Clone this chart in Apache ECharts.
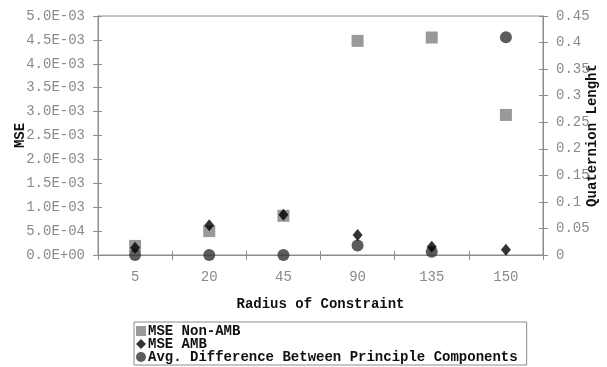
<!DOCTYPE html>
<html><head><meta charset="utf-8">
<script src="https://cdn.jsdelivr.net/npm/echarts@6/dist/echarts.min.js"></script>
<style>html,body{margin:0;padding:0;background:#fff}#c{width:607px;height:367px}</style>
</head><body><div id="c"></div>
<script>
const categories = ['5', '20', '45', '90', '135', '150'];
const mseNonAmb = [0.00019, 0.00050, 0.00082, 0.00448, 0.00455, 0.00293];
const mseAmb = [0.00015, 0.00062, 0.00084, 0.00042, 0.00017, 0.00011];
const avgDiff = [0.0, 0.0, 0.0, 0.018, 0.006, 0.41];
const leftMin = 0, leftMax = 0.005, leftStep = 0.0005;
const rightMin = 0, rightMax = 0.45, rightStep = 0.05;

const FONT = '"Liberation Mono", "DejaVu Sans Mono", monospace';
const AX = '#8c8c8c';
function sci(v){
  if (v === 0) return '0.0E+00';
  const s = v.toExponential(1).toUpperCase();
  const m = s.match(/^([\d.]+)E([+-])(\d+)$/);
  return m[1] + 'E' + m[2] + (m[3].length < 2 ? '0' + m[3] : m[3]);
}
const chart = echarts.init(document.getElementById('c'));
const tickInside = {show: true, inside: true, length: 4, lineStyle: {color: AX}};
chart.setOption({
  animation: false,
  grid: {left: 98, right: 64, top: 16, bottom: 112, show: true, borderColor: AX, borderWidth: 1,
         containLabel: false, outerBoundsMode: 'none'},
  legend: {
    orient: 'vertical', left: 134, top: 322, height: 50,
    padding: [2, 9, 1, 2], itemGap: -1, itemWidth: 10, itemHeight: 10,
    borderColor: AX, borderWidth: 1,
    textStyle: {fontFamily: FONT, fontSize: 14, fontWeight: 'bold', color: '#111', lineHeight: 13, padding: [0,0,0,-3]},
    data: ['MSE Non-AMB', 'MSE AMB', 'Avg. Difference Between Principle Components']
  },
  xAxis: [{
    type: 'category', data: categories, boundaryGap: true,
    name: 'Radius of Constraint', nameLocation: 'middle', nameGap: 42, nameMoveOverlap: false,
    nameTextStyle: {fontFamily: FONT, fontSize: 14, fontWeight: 'bold', color: '#111'},
    axisLine: {lineStyle: {color: AX}},
    axisTick: {show: true, interval: 0, length: 5, lineStyle: {color: AX}},
    axisLabel: {fontFamily: FONT, fontSize: 14, color: '#8a8a8a', margin: 15, interval: 0}
  }, {
    type: 'category', data: categories, position: 'bottom', boundaryGap: true,
    axisLine: {show: false}, axisTick: Object.assign({interval: 0}, tickInside), axisLabel: {show: false}
  }],
  yAxis: [{
    type: 'value', min: leftMin, max: leftMax, interval: leftStep, position: 'left',
    name: 'MSE', nameLocation: 'middle', nameGap: 71, nameRotate: 90, nameMoveOverlap: false,
    nameTextStyle: {fontFamily: FONT, fontSize: 14, fontWeight: 'bold', color: '#111'},
    axisLine: {show: true, lineStyle: {color: AX}},
    axisTick: {show: true, length: 5, lineStyle: {color: AX}},
    splitLine: {show: false},
    axisLabel: {fontFamily: FONT, fontSize: 14, color: '#8a8a8a', margin: 13, formatter: sci}
  }, {
    type: 'value', min: rightMin, max: rightMax, interval: rightStep, position: 'right',
    name: 'Quaternion Lenght', nameLocation: 'middle', nameGap: 42, nameRotate: 90, nameMoveOverlap: false,
    nameTextStyle: {fontFamily: FONT, fontSize: 14, fontWeight: 'bold', color: '#111'},
    axisLine: {show: true, lineStyle: {color: AX}},
    axisTick: {show: true, length: 5, lineStyle: {color: AX}},
    splitLine: {show: false},
    axisLabel: {fontFamily: FONT, fontSize: 14, color: '#8a8a8a', margin: 13}
  }, {
    type: 'value', min: leftMin, max: leftMax, interval: leftStep, position: 'left',
    axisLine: {show: false}, axisTick: tickInside, axisLabel: {show: false}, splitLine: {show: false}
  }, {
    type: 'value', min: rightMin, max: rightMax, interval: rightStep, position: 'right',
    axisLine: {show: false}, axisTick: tickInside, axisLabel: {show: false}, splitLine: {show: false}
  }],
  series: [{
    name: 'MSE Non-AMB', type: 'scatter', yAxisIndex: 0, data: mseNonAmb,
    symbol: 'rect', symbolSize: 12, itemStyle: {color: '#808080'}, z: 2
  }, {
    name: 'MSE AMB', type: 'scatter', yAxisIndex: 0, data: mseAmb,
    symbol: 'diamond', symbolSize: [10, 12], itemStyle: {color: '#000'}, z: 4
  }, {
    name: 'Avg. Difference Between Principle Components', type: 'scatter', yAxisIndex: 1, data: avgDiff,
    symbol: 'circle', symbolSize: 12, itemStyle: {color: '#333'}, z: 3
  }]
});
</script></body></html>
